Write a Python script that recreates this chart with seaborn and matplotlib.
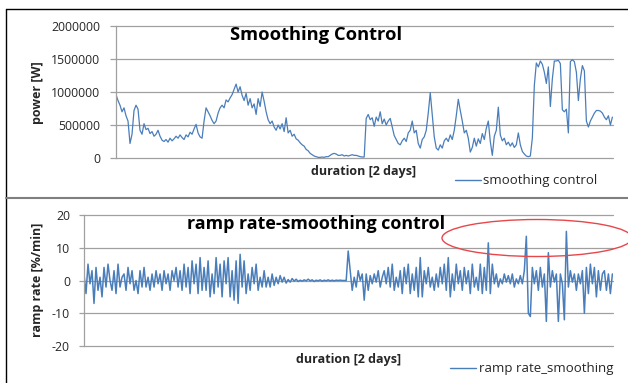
import numpy as np
import pandas as pd
import matplotlib
matplotlib.use("Agg")
import matplotlib.pyplot as plt
import seaborn as sns
from matplotlib.patches import Ellipse
from matplotlib.lines import Line2D

# Smoothed plant output over the two-day window, in kW (one sample per step)
power_kw = [
    960, 870, 800, 700, 760, 640, 560, 220, 360, 720,
    800, 740, 420, 360, 520, 430, 450, 370, 400, 330,
    360, 420, 330, 270, 250, 280, 240, 300, 260, 290,
    330, 300, 350, 310, 280, 350, 320, 390, 360, 440,
    510, 380, 320, 300, 560, 760, 700, 640, 570, 520,
    560, 680, 760, 800, 760, 880, 850, 910, 960, 1040,
    1120, 1000,
    1080, 950, 870, 980, 800, 900, 760, 820, 660, 900,
    780, 1000, 860, 700, 580, 520, 560, 470, 420, 500,
    440, 520, 400, 610, 380, 420, 330, 360, 290, 270,
    230, 200, 180, 130, 110, 70, 50, 30, 20, 10,
    10, 15, 10, 20, 20, 40, 60, 70, 60, 40,
    40, 50, 30, 40, 30, 40, 50, 40, 40, 30,
    20, 15, 15,
    600, 660, 580, 610, 480, 620, 560, 700, 520, 590,
    500, 560, 600, 470, 340, 280, 220, 200, 260, 300,
    250, 380, 420, 560, 380, 420, 220, 150, 280, 320,
    420, 680, 990, 650, 320, 150, 120, 200, 150, 260,
    300, 250, 350, 280, 420, 640, 890, 720, 560, 380,
    420, 300, 90, 160, 300, 180, 290, 220, 370, 280,
    450, 560,
    250, 40, 330, 420, 770, 350, 260, 300, 200, 240,
    180, 230, 160, 200, 380, 200, 100, 60, 30, 20,
    30, 300, 1100, 1440, 1380, 1470, 1420, 1300, 1130, 1380,
    780, 1200, 1470, 1470, 1480, 1430, 730, 700, 740, 380,
    1460, 1490, 1460, 1300, 870, 1200, 1400, 1320, 560, 470,
    560, 620, 680, 720, 720, 710, 680, 620, 580, 640,
    500, 620,
]

# Ramp rate of the smoothed output, in %/min
ramp_rate = [
    2, -4, 5, -1, 3, -7, 4, -3, 1, -5,
    4, -2, 5, 0, -3, 3, -4, 5, -2, 1,
    2, -3, 4, -1, 3, -3, 0, -4, 3, -2,
    4, -2, 1, -3, 2, -2, 3, -1, 2, -3,
    3, -1, 2, -3, 3, 0, 4, -2, 3, -3,
    5, -2, 4, -4, 6, -1, 5, -4, 7, -3,
    4, -3, 6, -5, 2, -4, 7, -2, 5, -5,
    6, -1, 7, -5, 3, -6, 6, -7, 8, -2,
    6, -4, 2, -3, 4, -1, 5, -3, 1, -2,
    3, -2, 1, -2, 2, -1.5, 1, -1, 1.5, -0.5,
    1, -0.8, 0.3, -0.5, 0.6, -0.2, 0.4, -0.3, 0.1, -0.2,
    0.2, -0.1, 0.4, -0.1, 0.2, -0.3, 0.1, -0.1, 0.2, -0.2,
    0.1, -0.1, 0.2, -0.1, 0.1, -0.1, 0.1, 0, 0.1, 0,
    0, 0, 9, 3, -3, 1, -2, 3, 0, 2,
    -6, 2, -3, 1.5, -1, 2, -0.5, 3, -2, 1,
    3, -1, 4, -2, 5, -3, 1, -2, 3, -4,
    4, -1, 5, -4, 2, -3, 4, -5, 7, -5,
    3, -1, 4, -2, 1, -3, 2, -2, 4, -1,
    5, -3, 7, -5, 2, -3, 5, -1, 3, -3,
    4, -1, 3, -4, 5, -2, 1, -3, 5, -4,
    4, -3, 11.5, -4, 5, -1, 2, -2, 0.5, -1,
    2, -0.5, 1.5, -1, 2, -2, 0.5, -1, 1.5, -1,
    3, 13.5, -10, -11, 4, -1, 3, -3, 4, -2,
    2, -12.5, 8.5, -2, 3, -0.5, 2, -12.5, 2, -1,
    -12, 15, -2, 3, -0.5, 2, -3, 2, -1, 3,
    -10, 4, -4, 5, -1, 4, -5, 3, -3, 2,
    3, -3, 2, -4, 2,
]

power_ticks = [0, 500000, 1000000, 1500000, 2000000]
ramp_ticks = [-20, -10, 0, 10, 20]

power_title = "Smoothing Control"
ramp_title = "ramp rate-smoothing control"
x_label = "duration [2 days]"
power_label = "power [W]"
ramp_label = "ramp rate [%/min]"
power_legend = "smoothing control"
ramp_legend = "ramp rate_smoothing"

LINE = "#4a7ebb"
GRID = "#a0a0a0"
TEXT = "#262626"

W, H = 628, 383
sns.set_theme(style="white")
plt.rcParams["font.family"] = ["Open Sans", "DejaVu Sans"]

fig = plt.figure(figsize=(W / 100, H / 100), dpi=100)
fig.patch.set_facecolor("white")


def fx(px):
    return px / W


def fy(py):
    return 1 - py / H


ax1 = fig.add_axes([fx(116), fy(158), fx(613) - fx(116), fy(26) - fy(158)])
ax2 = fig.add_axes([fx(84), fy(346), fx(613) - fx(84), fy(215) - fy(346)])

power_df = pd.DataFrame({"sample": np.arange(len(power_kw)),
                         "power": np.array(power_kw, dtype=float) * 1000})
ramp_df = pd.DataFrame({"sample": np.arange(len(ramp_rate)),
                        "ramp": np.array(ramp_rate, dtype=float)})

sns.lineplot(data=power_df, x="sample", y="power", ax=ax1, color=LINE,
             linewidth=0.9, estimator=None, sort=False)
sns.lineplot(data=ramp_df, x="sample", y="ramp", ax=ax2, color=LINE,
             linewidth=1.1, estimator=None, sort=False)


def style_axis(ax, ticks, n, tick_len, pad):
    ax.set_xlim(0, n - 1 + 0.3)
    ax.set_ylim(ticks[0], ticks[-1])
    ax.set_yticks(ticks)
    ax.set_yticklabels([str(t) for t in ticks])
    for t in ticks:
        ax.axhline(t, color=GRID, lw=0.9, clip_on=False, zorder=0)
    for s in ["top", "right", "bottom"]:
        ax.spines[s].set_visible(False)
    ax.spines["left"].set_color(GRID)
    ax.spines["left"].set_linewidth(0.9)
    ax.tick_params(axis="y", left=True, length=tick_len, width=0.9, color=GRID,
                   pad=pad, labelsize=8.8, labelcolor=TEXT)
    ax.set_xticks([])
    ax.set_xlabel("")
    ax.set_ylabel("")
    ax.set_facecolor("none")
    ax.grid(False)


style_axis(ax1, power_ticks, len(power_kw), 4.3, 7.2)
style_axis(ax2, ramp_ticks, len(ramp_rate), 3.6, 6.5)

# Titles and axis labels
fig.text(fx(316.5), fy(40), power_title, ha="center", va="baseline",
         fontsize=13.2, fontweight="bold", color="black")
fig.text(fx(316), fy(229), ramp_title, ha="center", va="baseline",
         fontsize=12.9, fontweight="bold", color="black")
fig.text(fx(364), fy(175), x_label, ha="center", va="baseline",
         fontsize=9, fontweight="bold", color=TEXT)
fig.text(fx(348.5), fy(363), x_label, ha="center", va="baseline",
         fontsize=9, fontweight="bold", color=TEXT)
fig.text(fx(37), fy(92.5), power_label, ha="center", va="center",
         rotation=90, fontsize=9, fontweight="bold", color=TEXT)
fig.text(fx(37), fy(280), ramp_label, ha="center", va="center",
         rotation=90, fontsize=9, fontweight="bold", color=TEXT)

# Legends
fig.add_artist(Line2D([fx(455), fx(481)], [fy(180), fy(180)], color=LINE, lw=1.0))
fig.text(fx(483), fy(184), power_legend, ha="left", va="baseline",
         fontsize=9.5, color=TEXT)
fig.add_artist(Line2D([fx(450), fx(476)], [fy(368), fy(368)], color=LINE, lw=1.0))
fig.text(fx(479), fy(372), ramp_legend, ha="left", va="baseline",
         fontsize=9.5, color=TEXT)

# Panel frames
fig.add_artist(Line2D([fx(6), 1], [fy(9), fy(9)], color="black", lw=1.0))
fig.add_artist(Line2D([fx(6), fx(6)], [fy(9), 0], color="black", lw=1.0))
fig.add_artist(Line2D([fx(6), 1], [fy(197.5), fy(197.5)], color="#7f7f7f", lw=1.5))

# Highlight around the large ramp events
fig.add_artist(Ellipse((fx(537), fy(238)), width=190 / W, height=37 / H,
                       transform=fig.transFigure, fill=False,
                       edgecolor="#e8474a", lw=1.0))

fig.savefig("out.png", dpi=100)
